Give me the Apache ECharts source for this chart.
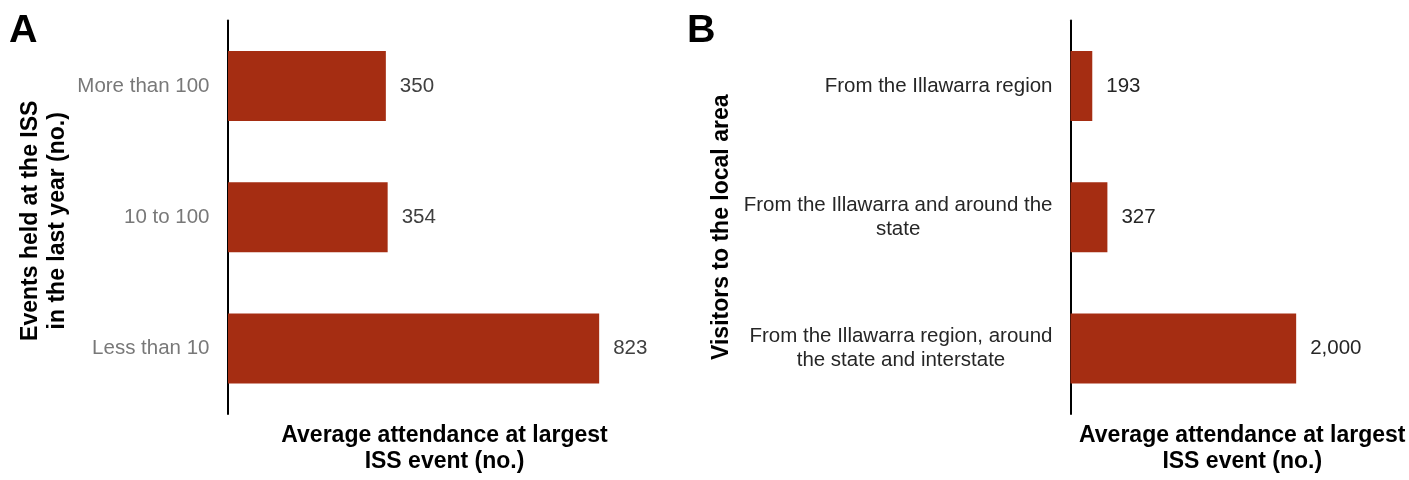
<!DOCTYPE html>
<html>
<head>
<meta charset="utf-8">
<script src="https://cdn.jsdelivr.net/npm/echarts@6/dist/echarts.min.js"></script>
<style>
html,body{margin:0;padding:0;background:#ffffff;}
#chart{width:1409px;height:480px;}
</style>
</head>
<body>
<div id="chart"></div>
<script>
// ---- data ----
const panelLetters = ['A', 'B'];
const catsA = ['More than 100', '10 to 100', 'Less than 10'];
const valsA = [350, 354, 823];
const catsB = ['From the Illawarra region', 'From the Illawarra and around the state', 'From the Illawarra region, around the state and interstate'];
const valsB = [193, 327, 2000];
const yTitleA = 'Events held at the ISS\nin the last year (no.)';
const yTitleB = 'Visitors to the local area';
const xTitle = 'Average attendance at largest\nISS event (no.)';

// ---- styles ----
const SANS = '"Liberation Sans", Arial, sans-serif';
const BAR = '#A52D12';
const LABEL_SIZE = 20.5;

const measureCtx = document.createElement('canvas').getContext('2d');
function wrapWords(text, maxW) {
  measureCtx.font = LABEL_SIZE + 'px ' + SANS;
  const words = text.split(' ');
  const lines = [];
  let cur = '';
  for (const w of words) {
    const t = cur ? cur + ' ' + w : w;
    if (cur && measureCtx.measureText(t).width > maxW) { lines.push(cur); cur = w; }
    else cur = t;
  }
  if (cur) lines.push(cur);
  return lines;
}
const fmtNum = p => Number(p.value).toLocaleString('en-US');

const titleFont = { fontFamily: SANS, fontWeight: 'bold', fontSize: 23, color: '#000' };

function valueAxis(idx, max, pad) {
  return {
    type: 'value', gridIndex: idx, min: 0, max: max,
    axisLine: { show: false }, axisTick: { show: false },
    axisLabel: { show: false }, splitLine: { show: false },
    name: xTitle, nameLocation: 'middle', nameGap: 8,
    nameTextStyle: Object.assign({ padding: pad, lineHeight: 26.5 }, titleFont)
  };
}

const option = {
  backgroundColor: '#ffffff',
  animation: false,
  title: [
    { text: panelLetters[0], left: 4, top: 6, padding: 5,
      textStyle: { fontFamily: SANS, fontWeight: 'bold', fontSize: 39.5, color: '#000' } },
    { text: panelLetters[1], left: 682, top: 6, padding: 5,
      textStyle: { fontFamily: SANS, fontWeight: 'bold', fontSize: 39.5, color: '#000' } }
  ],
  grid: [
    { left: 228, top: 20.5, width: 451, height: 399, containLabel: false },
    { left: 1070.5, top: 20.5, width: 339, height: 399, containLabel: false }
  ],
  xAxis: [
    valueAxis(0, 1000, [0, 18, 0, 0]),
    valueAxis(1, 3000, [0, 0, 0, 5])
  ],
  yAxis: [
    {
      type: 'category', gridIndex: 0, data: catsA, inverse: true,
      axisTick: { show: false },
      axisLine: { show: true, lineStyle: { color: '#000', width: 2 } },
      axisLabel: { margin: 18.5, fontFamily: SANS, fontSize: LABEL_SIZE, color: '#787878' },
      name: yTitleA, nameLocation: 'middle', nameGap: 157,
      nameTextStyle: Object.assign({ lineHeight: 27, padding: [0, 7, 0, 0] }, titleFont)
    },
    {
      type: 'category', gridIndex: 1, data: catsB, inverse: true,
      axisTick: { show: false },
      axisLine: { show: true, lineStyle: { color: '#000', width: 2 } },
      axisLabel: {
        margin: 18,
        formatter: v => wrapWords(v, 320).map(l => '{c|' + l + '}').join('\n'),
        rich: { c: { align: 'center', fontFamily: SANS, fontSize: LABEL_SIZE, lineHeight: 24.5, color: '#262626' } }
      },
      name: yTitleB, nameLocation: 'middle', nameGap: 335.5,
      nameTextStyle: Object.assign({ lineHeight: 27, padding: [0, 20, 0, 0] }, titleFont)
    }
  ],
  series: [
    {
      type: 'bar', xAxisIndex: 0, yAxisIndex: 0, data: valsA, barWidth: 70,
      itemStyle: { color: BAR },
      label: { show: true, position: 'right', distance: 14, fontFamily: SANS, fontSize: LABEL_SIZE, color: '#404040', formatter: fmtNum }
    },
    {
      type: 'bar', xAxisIndex: 1, yAxisIndex: 1, data: valsB, barWidth: 70,
      itemStyle: { color: BAR },
      label: { show: true, position: 'right', distance: 14, fontFamily: SANS, fontSize: LABEL_SIZE, color: '#262626', formatter: fmtNum }
    }
  ]
};

const chart = echarts.init(document.getElementById('chart'), null, { renderer: 'canvas' });
chart.setOption(option);
</script>
</body>
</html>
